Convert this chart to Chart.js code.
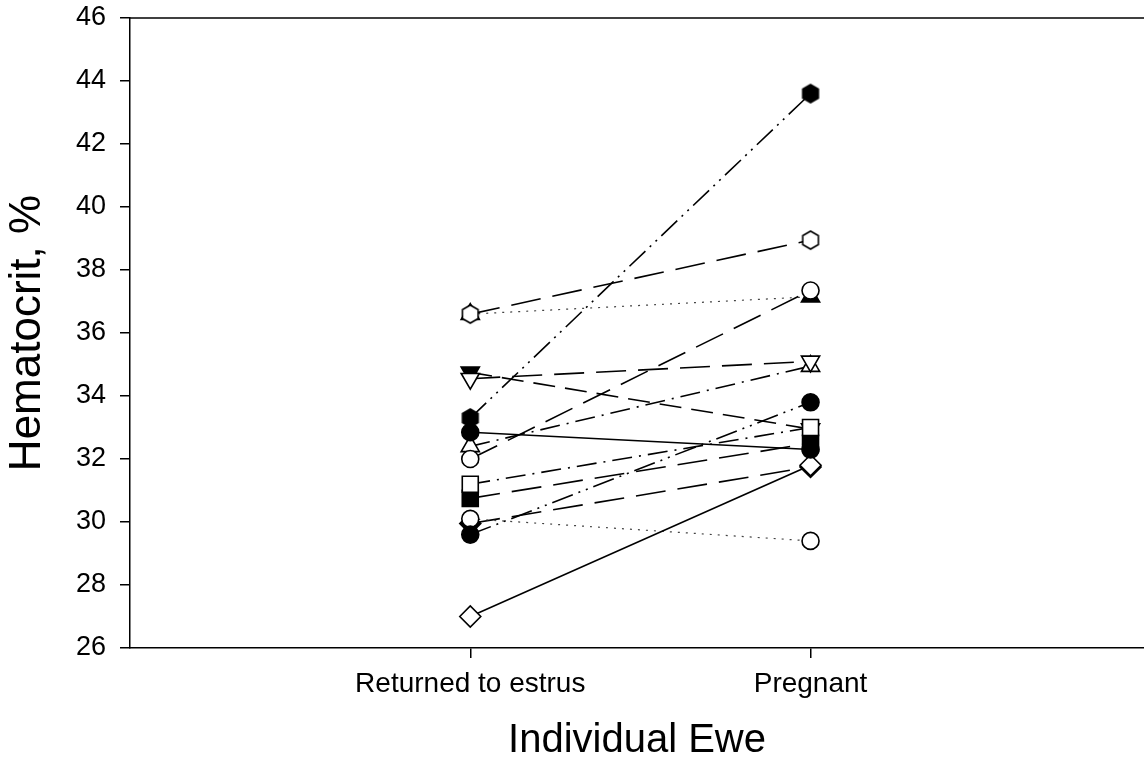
<!DOCTYPE html>
<html>
<head>
<meta charset="utf-8">
<script src="https://cdn.jsdelivr.net/npm/chart.js@4/dist/chart.umd.min.js"></script>
<style>
  html, body { margin: 0; padding: 0; background: #fff; }
  #wrap { width: 1144px; height: 759px; }
</style>
</head>
<body>
<div id="wrap"><canvas id="chart"></canvas></div>
<script>
// hematocrit (%) of each ewe, first when returned to estrus, then when pregnant
const groups = ["Returned to estrus", "Pregnant"];
const estrus   = [36.6, 32.0, 36.6, 32.85, 34.55, 32.4, 33.3, 31.2, 34.75, 30.75, 27.0, 29.6, 30.1, 29.95];
const pregnant = [38.95, 37.35, 37.15, 32.3, 35.1, 34.95, 43.6, 33.0, 32.95, 32.5, 31.8, 33.8, 29.4, 31.75];
const markers  = ["hexOpen", "circleOpen", "triFilled", "circleFilled", "triDownOpen", "triOpen", "hexFilled",
                  "squareOpen", "triDownFilled", "squareFilled", "diamondOpen", "circleFilled", "circleOpen", "diamondFilled"];
const lineKinds = ["long", "long", "dot", "solid", "long", "dashDot", "dashDotDot",
                   "dashDot", "medium", "long", "solid", "dashDotDot", "dot", "long"];
const yTicks = [26, 28, 30, 32, 34, 36, 38, 40, 42, 44, 46];

const FONT = "'Liberation Sans', Arial, Helvetica, sans-serif";

function hexagon(filled) {
  const c = document.createElement("canvas");
  c.width = 22; c.height = 22;
  const g = c.getContext("2d");
  g.beginPath();
  for (let i = 0; i < 6; i++) {
    const a = -Math.PI / 2 + i * Math.PI / 3;
    const px = 11 + 9 * Math.cos(a), py = 11 + 9 * Math.sin(a);
    if (i === 0) g.moveTo(px, py); else g.lineTo(px, py);
  }
  g.closePath();
  g.fillStyle = filled ? "#000" : "#fff";
  g.fill();
  g.lineWidth = 1.6;
  g.strokeStyle = "#000";
  g.stroke();
  return c;
}

const hexImgs = { hexOpen: hexagon(false), hexFilled: hexagon(true) };

function markerStyle(name) {
  const filled = name.indexOf("Filled") >= 0;
  const bg = filled ? "#000" : "#fff";
  if (name.startsWith("hex")) return { pointStyle: hexImgs[name], pointRadius: 9, pointRotation: 0, bg };
  if (name.startsWith("circle")) return { pointStyle: "circle", pointRadius: 8.5, pointRotation: 0, bg };
  if (name.startsWith("square")) return { pointStyle: "rect", pointRadius: 11.3, pointRotation: 0, bg };
  if (name.startsWith("diamond")) return { pointStyle: "rectRot", pointRadius: 10.5, pointRotation: 0, bg };
  if (name.startsWith("triDown")) return { pointStyle: "triangle", pointRadius: 10.5, pointRotation: 180, bg };
  return { pointStyle: "triangle", pointRadius: 10.5, pointRotation: 0, bg };
}

function lineStyle(kind) {
  switch (kind) {
    case "long": return { dash: [30, 12], width: 1.6, color: "#000" };
    case "medium": return { dash: [22, 10], width: 1.6, color: "#000" };
    case "dashDot": return { dash: [20, 7, 2, 7], width: 1.6, color: "#000" };
    case "dashDotDot": return { dash: [22, 6, 2, 6, 2, 6], width: 1.6, color: "#000" };
    case "dot": return { dash: [2, 6], width: 1.2, color: "#444" };
    default: return { dash: [], width: 1.6, color: "#000" };
  }
}

const datasets = estrus.map((v, i) => {
  const m = markerStyle(markers[i]);
  const l = lineStyle(lineKinds[i]);
  return {
    data: [{ x: 1, y: v }, { x: 2, y: pregnant[i] }],
    borderColor: l.color,
    borderWidth: l.width,
    borderDash: l.dash,
    pointStyle: m.pointStyle,
    pointRadius: m.pointRadius,
    pointHoverRadius: m.pointRadius,
    pointRotation: m.pointRotation,
    pointBackgroundColor: m.bg,
    pointBorderColor: "#000",
    pointBorderWidth: 1.6,
    fill: false,
    tension: 0
  };
});

const topLine = {
  id: "topLine",
  afterDraw(chart) {
    const { ctx, chartArea } = chart;
    ctx.save();
    ctx.strokeStyle = "#000";
    ctx.lineWidth = 1.5;
    ctx.beginPath();
    ctx.moveTo(chartArea.left, chartArea.top);
    ctx.lineTo(chart.width, chartArea.top);
    ctx.stroke();
    ctx.restore();
  }
};

Chart.defaults.color = "#000";
Chart.defaults.font.family = FONT;

new Chart(document.getElementById("chart"), {
  type: "line",
  data: { datasets },
  plugins: [topLine],
  options: {
    responsive: true,
    maintainAspectRatio: false,
    animation: false,
    layout: { autoPadding: false, padding: { top: 18, right: 0, bottom: 0, left: 0 } },
    plugins: { legend: { display: false }, tooltip: { enabled: false } },
    scales: {
      x: {
        type: "linear",
        min: 0,
        max: 2.98,
        afterBuildTicks: (scale) => { scale.ticks = groups.map((g, i) => ({ value: i + 1 })); },
        afterFit: (scale) => { scale.height = 111; scale.paddingLeft = 0; scale.paddingRight = 0; },
        ticks: {
          callback: (val) => groups[val - 1] || "",
          font: { size: 28 },
          padding: 9,
          maxRotation: 0,
          autoSkip: false
        },
        grid: { drawOnChartArea: false, tickLength: 10, color: "#000", lineWidth: 1.5 },
        border: { color: "#000", width: 1.5 },
        title: {
          display: true,
          text: "Individual Ewe",
          font: { size: 40, lineHeight: 0.9 },
          padding: { top: 0, bottom: 0 }
        }
      },
      y: {
        min: 26,
        max: 46,
        afterBuildTicks: (scale) => { scale.ticks = yTicks.map(v => ({ value: v })); },
        afterFit: (scale) => { scale.width = 130; scale.paddingTop = 0; scale.paddingBottom = 0; },
        ticks: { font: { size: 27 }, padding: 14 },
        grid: { drawOnChartArea: false, tickLength: 10, color: "#000", lineWidth: 1.5 },
        border: { color: "#000", width: 1.5 },
        title: {
          display: true,
          text: "Hematocrit, %",
          font: { size: 44, lineHeight: 1 },
          padding: { top: 6, bottom: 0 }
        }
      }
    }
  }
});
</script>
</body>
</html>
